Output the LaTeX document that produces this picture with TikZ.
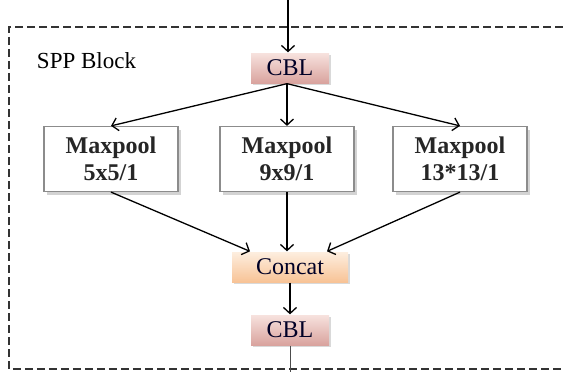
\documentclass[tikz,border=0pt]{standalone}
\usepackage{fontspec}
\setmainfont{Liberation Serif}
\usetikzlibrary{arrows.meta, shadows}
\definecolor{cbltop}{HTML}{F7E2DE}
\definecolor{cblbot}{HTML}{D9A39E}
\definecolor{cattop}{HTML}{FDEEDF}
\definecolor{catbot}{HTML}{F8C396}
\tikzset{
  every picture/.style={x=1pt,y=-1pt,line width=1.3pt,>={Straight Barb[length=6pt,width=13pt]}},
  pool/.style={draw=black!45,fill=white,line width=1.2pt,minimum width=134pt,minimum height=65pt,
    align=center,font=\fontsize{24}{27}\selectfont\bfseries,text=black!85,
    drop shadow={shadow xshift=3pt,shadow yshift=-3pt,opacity=0.35}},
  cbl/.style={top color=cbltop,bottom color=cblbot,minimum width=78pt,minimum height=30pt,
    font=\fontsize{24}{27}\selectfont,text=black!85!blue,
    drop shadow={shadow xshift=2pt,shadow yshift=-2pt,opacity=0.3}},
  concatbox/.style={cbl,top color=cattop,bottom color=catbot,minimum width=116pt,minimum height=30pt},
  frame/.style={draw=black!80,line width=1.6pt,dash pattern=on 8pt off 4pt}
}

\begin{document}
\begin{tikzpicture}
    \useasboundingbox (0,0) rectangle (563,372);
    \draw[frame] (563,27) -- (9,27) -- (9,369) -- (563,369);
    \node[font=\fontsize{23}{26}\selectfont,anchor=west] (title) at (33,61) {SPP Block};

    \coordinate (in) at (288,0);
    \coordinate (out) at (290,372);
    \node[cbl] (cbla) at (290,68) {CBL};
    \node[pool] (pool1) at (111,159) {Maxpool\\5x5/1};
    \node[pool] (pool2) at (287,159) {Maxpool\\9x9/1};
    \node[pool] (pool3) at (460,159) {Maxpool\\13*13/1};
    \node[concatbox] (concat) at (290,267) {Concat};
    \node[cbl] (cblb) at (290,330) {CBL};

    \draw[->] (in) -- (in |- cbla.north);
    \foreach \to in {pool1, pool2, pool3}
      \draw[->] (cbla.south -| pool2) -- (\to.north);
    \draw[->] (pool1.south) -- ([xshift=-40pt]concat.north);
    \draw[->] (pool2.south) -- (pool2.south |- concat.north);
    \draw[->] (pool3.south) -- ([xshift=37pt]concat.north);
    \draw[->] (concat) -- (cblb);
    \draw[line width=0.8pt,black!70] (cblb.south -| out) -- (out);
\end{tikzpicture}
\end{document}
